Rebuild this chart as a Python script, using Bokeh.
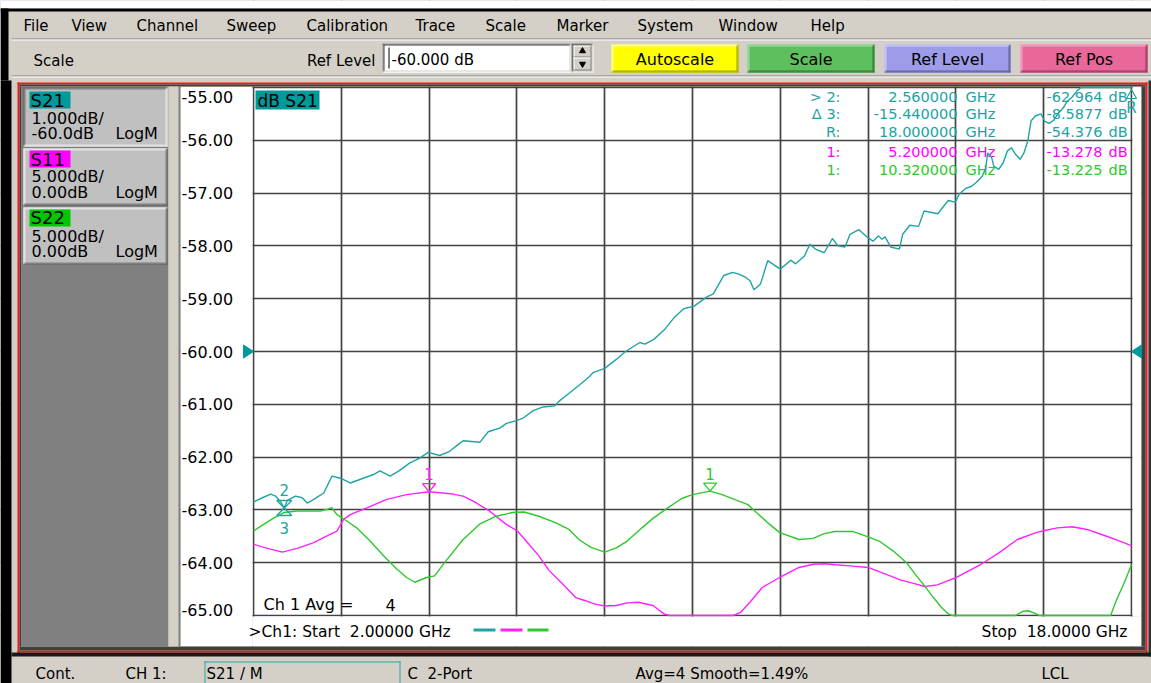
from bokeh.plotting import figure
from bokeh.models import Range1d, Grid, FixedTicker, ColumnDataSource
from bokeh.core.properties import value
from bokeh.embed import file_html
from bokeh.resources import INLINE

# ---------------------------------------------------------------- data
s21_freq = [2.0, 2.163, 2.314, 2.405, 2.495, 2.56, 2.616, 2.767, 2.888, 2.978,
            3.099, 3.19, 3.28, 3.431, 3.582, 3.763, 3.974, 4.186, 4.306, 4.487,
            4.638, 4.85, 5.03, 5.18, 5.393, 5.574, 5.755, 5.822, 6.125, 6.277,
            6.489, 6.61, 6.792, 6.914, 7.096, 7.278, 7.49, 7.581, 7.763, 7.945,
            8.127, 8.188, 8.4, 8.612, 8.78, 9.04, 9.135, 9.295, 9.487, 9.68,
            9.84, 10.03, 10.254, 10.38, 10.57, 10.73, 10.86, 10.96, 11.05, 11.12,
            11.24, 11.37, 11.6, 11.79, 11.88, 12.04, 12.14, 12.24, 12.4, 12.55,
            12.65, 12.78, 12.87, 13.03, 13.19, 13.29, 13.39, 13.45, 13.51, 13.61,
            13.77, 13.83, 13.96, 14.12, 14.22, 14.47, 14.66, 14.79, 14.86, 14.98,
            15.08, 15.17, 15.28, 15.34, 15.38, 15.45, 15.49, 15.58, 15.66, 15.74,
            15.81, 15.89, 15.97, 16.04, 16.11, 16.17, 16.25, 16.35, 16.42, 16.5,
            16.58, 16.66, 16.76, 16.83, 16.92, 17.01, 17.08, 18.0]
s21_db = [-62.85, -62.77, -62.70, -62.74, -62.85, -62.96, -62.82, -62.74, -62.77, -62.87,
          -62.80, -62.74, -62.68, -62.36, -62.40, -62.49, -62.41, -62.33, -62.26, -62.36,
          -62.27, -62.11, -62.02, -61.91, -61.97, -61.89, -61.74, -61.69, -61.72, -61.52,
          -61.45, -61.36, -61.31, -61.26, -61.12, -61.05, -61.03, -60.93, -60.78, -60.63,
          -60.47, -60.40, -60.32, -60.15, -60.00, -59.83, -59.86, -59.77, -59.59, -59.34,
          -59.19, -59.14, -58.97, -58.91, -58.56, -58.50, -58.54, -58.59, -58.66, -58.83,
          -58.72, -58.28, -58.44, -58.27, -58.34, -58.19, -57.97, -58.06, -58.13, -57.86,
          -58.00, -58.02, -57.78, -57.69, -57.84, -57.91, -57.81, -57.875, -57.83, -58.02,
          -58.06, -57.78, -57.61, -57.63, -57.34, -57.39, -57.14, -57.17, -57.02, -56.91,
          -56.875, -56.80, -56.68, -56.54, -56.24, -56.32, -56.49, -56.55, -56.43, -56.20,
          -56.14, -56.27, -56.36, -56.24, -56.01, -55.63, -55.54, -55.50, -55.64, -55.68,
          -55.62, -55.50, -55.38, -55.26, -55.18, -55.06, -55.00, -55.00]

s11_freq = [2.0, 2.254, 2.525, 2.797, 3.099, 3.34, 3.521, 3.642, 3.763, 4.065,
            4.427, 4.79, 5.2, 5.635, 5.816, 5.997, 6.299, 6.6, 6.81, 7.02,
            7.2, 7.39, 7.63, 7.87, 8.05, 8.21, 8.4, 8.61, 8.81, 9.01,
            9.28, 9.48, 9.58, 10.74, 10.88, 11.07, 11.27, 11.59, 11.94, 12.2,
            12.4, 12.6, 12.87, 13.2, 13.53, 13.8, 14.06, 14.23, 14.46, 14.66,
            14.81, 14.99, 15.26, 15.59, 15.92, 16.26, 16.42, 16.65, 16.92, 17.19,
            17.52, 17.86, 18.0]
s11_db = [-18.25, -18.65, -19.0, -18.65, -18.1, -17.45, -17.0, -15.9, -15.45, -14.8,
          -14.0, -13.55, -13.28, -13.5, -13.7, -14.15, -15.1, -16.35, -17.0, -18.25,
          -19.35, -20.75, -22.0, -23.3, -23.6, -23.9, -24.1, -24.05, -23.8, -23.75,
          -24.05, -24.85, -25.0, -25.0, -24.7, -23.6, -22.35, -21.4, -20.45, -20.15,
          -20.1, -20.2, -20.3, -20.45, -21.1, -21.65, -22.0, -22.25, -22.1, -21.7,
          -21.4, -20.9, -20.15, -19.05, -17.8, -17.15, -16.95, -16.7, -16.6, -16.85,
          -17.45, -18.1, -18.4]

s22_freq = [2.0, 2.193, 2.374, 2.555, 2.797, 3.038, 3.22, 3.34, 3.43, 3.52,
            3.7, 3.88, 4.125, 4.37, 4.61, 4.79, 4.94, 5.15, 5.3, 5.51,
            5.82, 6.12, 6.42, 6.72, 6.93, 7.2, 7.5, 7.75, 7.94, 8.15,
            8.4, 8.61, 8.81, 9.08, 9.28, 9.51, 9.81, 10.0, 10.32, 10.54,
            10.81, 11.01, 11.21, 11.4, 11.59, 11.94, 12.2, 12.4, 12.6, 12.93,
            13.2, 13.4, 13.66, 13.9, 14.06, 14.2, 14.36, 14.53, 14.66, 14.73,
            15.89, 16.02, 16.12, 16.26, 16.32, 17.62, 17.72, 17.86, 18.0]
s22_db = [-17.0, -16.35, -15.75, -15.25, -15.1, -15.1, -15.1, -14.95, -14.8, -15.45,
          -16.05, -16.7, -17.95, -19.35, -20.6, -21.4, -21.85, -21.4, -21.25, -19.8,
          -17.8, -16.35, -15.6, -15.25, -15.2, -15.6, -16.2, -16.85, -17.85, -18.55,
          -19.0, -18.6, -17.95, -16.7, -15.8, -14.95, -13.9, -13.55, -13.225, -13.55,
          -14.1, -14.5, -15.45, -16.35, -17.15, -17.8, -17.7, -17.25, -17.05, -17.05,
          -17.55, -17.95, -18.9, -20.0, -21.1, -22.0, -23.1, -24.2, -24.85, -25.0,
          -25.0, -24.6, -24.55, -24.85, -25.0, -25.0, -23.6, -22.0, -20.2]

y_ticks = [-55.0, -56.0, -57.0, -58.0, -59.0, -60.0, -61.0, -62.0, -63.0, -64.0, -65.0]
y_tick_labels = ["-55.00", "-56.00", "-57.00", "-58.00", "-59.00", "-60.00",
                 "-61.00", "-62.00", "-63.00", "-64.00", "-65.00"]
x_divs = [2.0, 3.6, 5.2, 6.8, 8.4, 10.0, 11.6, 13.2, 14.8, 16.4, 18.0]

mk21_freq, mk21_db = 2.56, -62.964      # markers 2 and 3 (S21)
mk11_freq, mk11_db = 5.2, -13.278       # marker 1 (S11)
mk22_freq, mk22_db = 10.32, -13.225     # marker 1 (S22)
mkR_freq = 18.0                         # reference marker R (off-screen above)

readout_labels = ["> 2:", "\u0394 3:", "R:", "1:", "1:"]
readout_freqs = ["2.560000", "-15.440000", "18.000000", "5.200000", "10.320000"]
readout_vals = ["-62.964", "-8.5877", "-54.376", "-13.278", "-13.225"]

NB = "\u00a0"
menu_items = ["File", "View", "Channel", "Sweep", "Calibration", "Trace", "Scale",
              "Marker", "System", "Window", "Help"]
toolbar_buttons = ["Autoscale", "Scale", "Ref Level", "Ref Pos"]
trace_names = ["S21", "S11", "S22"]
trace_scales = ["1.000dB/", "5.000dB/", "5.000dB/"]
trace_refs = ["-60.0dB", "0.00dB", "0.00dB"]
trace_formats = ["LogM", "LogM", "LogM"]
status_items = ["Cont.", "CH 1:", "S21 / M", "C" + NB + NB + "2-Port",
                "Avg=4 Smooth=1.49%", "LCL"]
start_text = ">Ch1: Start" + NB + NB + "2.00000 GHz"
stop_text = "Stop" + NB + NB + "18.0000 GHz"

# ---------------------------------------------------------------- layout
W, H = 1151, 683
OX, OY = 0, 0
GX0, GX1 = 253, 1131
GY0, GY1 = 87, 615
F0, F1 = 2.0, 18.0
DB_TOP, DB_BOT = -55.0, -65.0
S21_REF = -60.0
SXX_PER_S21 = 5.0

xpp = (F1 - F0) / (GX1 - GX0)
ypp = (DB_TOP - DB_BOT) / (GY1 - GY0)
x_lo = F0 - (GX0 - OX) * xpp
x_hi = F1 + (OX + W - GX1) * xpp
y_hi = DB_TOP + (GY0 - OY) * ypp
y_lo = DB_BOT - (OY + H - GY1) * ypp


def to_sxx(v):
    return (v - S21_REF) * SXX_PER_S21


GRAY = "#d4d0c8"
DARK = "#808080"
DARKER = "#404040"
WHITE = "#ffffff"
BLACK = "#000000"
RED = "#f01a1a"
TEAL_BOX = "#009999"
TEAL = "#22a3a3"
MAG = "#ff00ff"
MAG_T = "#ff22ff"
GRN_BOX = "#00c800"
GRN = "#2ec82e"
FONT = "DejaVu Sans"

p = figure(width=W, height=H, x_range=Range1d(x_lo, x_hi), y_range=Range1d(y_lo, y_hi),
           x_axis_type=None, y_axis_type=None, toolbar_location=None,
           output_backend="svg", min_border=0, outline_line_color=None,
           background_fill_color=GRAY, border_fill_color=GRAY)
p.extra_x_ranges = {"px": Range1d(OX, OX + W)}
p.extra_y_ranges = {"px": Range1d(OY + H, OY),
                    "sxx": Range1d(to_sxx(y_lo), to_sxx(y_hi))}

# white plot area beneath the graticule
p.quad(left=[180], right=[1141], top=[86], bottom=[646], fill_color=WHITE,
       line_color=None, x_range_name="px", y_range_name="px", level="image")

for dim, ticks in ((0, x_divs), (1, y_ticks)):
    g = Grid(dimension=dim, ticker=FixedTicker(ticks=ticks),
             grid_line_color="#424242", grid_line_width=1.7)
    p.add_layout(g, "center")

# ---------------------------------------------------------------- chrome rects
R = []


def rect(l, t, r, b, c):
    R.append((l, t, r, b, c))


def bevel(l, t, r, b, tls, brs):
    for k, (tl, br) in enumerate(zip(tls, brs)):
        rect(l + k, t + k, r - k, t + k + 1, tl)
        rect(l + k, t + k, l + k + 1, b - k, tl)
        rect(l + k, b - k - 1, r - k, b - k, br)
        rect(r - k - 1, t + k, r - k, b - k, br)


# masks outside the white area
rect(0, 0, 1151, 86, GRAY)
rect(0, 646, 1151, 683, GRAY)
rect(0, 86, 180, 646, GRAY)
rect(1141, 86, 1151, 646, GRAY)
# white margins inside the plot area, outside the graticule
rect(180, 86, 252, 646, WHITE)
rect(252, 616, 1141, 646, WHITE)
rect(1132, 86, 1141, 616, WHITE)

# window frame
rect(0, 0, 1151, 8, WHITE)
rect(0, 8, 1151, 11, BLACK)
rect(0, 8, 8, 80, BLACK)
rect(0, 80, 11, 683, BLACK)
rect(1148, 80, 1151, 656, "#303030")
rect(11, 38, 1151, 39, DARK)
rect(11, 39, 1151, 40, WHITE)
rect(11, 75, 1151, 76, DARK)
rect(11, 76, 1151, 77, WHITE)

# red frame and dark inner ring
rect(17, 82, 1147, 84, RED)
rect(17, 650, 1147, 652, RED)
rect(17, 82, 19, 652, RED)
rect(1145, 82, 1147, 652, RED)
rect(19, 84, 1145, 86, DARKER)
rect(19, 646, 1145, 650, DARKER)
rect(1141, 86, 1145, 646, DARKER)
rect(19, 86, 21, 646, DARKER)
# left trace panel
rect(21, 86, 168, 646, DARK)
rect(168, 86, 178, 646, GRAY)
rect(178, 86, 180, 646, DARK)

# status bar
rect(11, 652, 1151, 656, "#1a1a1a")
rect(204, 661, 400, 662, TEAL)
rect(204, 661, 205, 683, TEAL)
rect(399, 661, 400, 683, TEAL)

# trace buttons
btn_y = [(87, 146), (148, 205), (207, 264)]
box_y = [(91, 108), (150, 167), (209, 226)]
box_c = [TEAL_BOX, MAG, GRN_BOX]
for i, (t, b) in enumerate(btn_y):
    rect(23, t, 167, b, "#c0c0c0")
    if i == 0:
        bevel(23, t, 167, b, [DARKER, DARK], [WHITE, "#e4e4e4"])
    else:
        bevel(23, t, 167, b, [WHITE, "#e4e4e4"], [DARKER, DARK])
    rect(29, box_y[i][0], 70, box_y[i][1], box_c[i])

# "dB S21" tag
rect(255, 90, 319, 109, TEAL_BOX)

# toolbar: input box, spinner, buttons
rect(382, 43, 571, 72, WHITE)
bevel(382, 43, 571, 72, [DARK, DARKER], [WHITE, GRAY])
rect(388, 47, 389, 68, BLACK)
rect(571, 43, 593, 72, GRAY)
bevel(571, 43, 593, 72, [DARK, DARKER], [WHITE, GRAY])
bevel(573, 45, 591, 57, [WHITE], [DARK])
bevel(573, 57, 591, 70, [WHITE], [DARK])
btn_x = [(611, 738), (747, 874), (884, 1010), (1020, 1147)]
btn_fill = ["#ffff00", "#5ebf5e", "#9c9ce8", "#e8689a"]
btn_light = ["#ffffa8", "#a8dca8", "#d0d0f6", "#f4aac6"]
btn_dark = ["#a0a000", "#2f7a2f", "#5a5aa6", "#a03264"]
for (l, r), f, li, dk in zip(btn_x, btn_fill, btn_light, btn_dark):
    rect(l, 44, r, 72, f)
    bevel(l, 44, r, 72, [li, li], [dk, dk])

# coloured trace keys next to the start text
rect(473, 628, 495, 631, TEAL)
rect(500, 628, 522, 631, MAG_T)
rect(527, 628, 548, 631, GRN)

src = ColumnDataSource(dict(l=[q[0] for q in R], t=[q[1] for q in R],
                            r=[q[2] for q in R], b=[q[3] for q in R],
                            c=[q[4] for q in R]))
p.quad(left="l", right="r", top="t", bottom="b", fill_color="c", line_color=None,
       source=src, x_range_name="px", y_range_name="px")


# ---------------------------------------------------------------- texts
def txt(x, y, s, size, color=BLACK, align="left", xr="px", yr="px"):
    p.text(x=[x], y=[y], text=[s], text_font=value(FONT),
           text_font_size=f"{size}px", text_color=color, text_align=align,
           text_baseline="middle", x_range_name=xr, y_range_name=yr)


menu_x = [23, 71, 136, 226, 306, 415, 485, 556, 637, 718, 810]
for x, s in zip(menu_x, menu_items):
    txt(x, 25.5, s, 15)

txt(33, 60, "Scale", 15)
txt(375, 60, "Ref Level", 15, align="right")
txt(391, 59.5, "-60.000 dB", 15)
p.scatter(x=[582, 582], y=[50.5, 63.5], marker=["triangle", "inverted_triangle"],
          size=6, color=BLACK, x_range_name="px", y_range_name="px")
for (l, r), s in zip(btn_x, toolbar_buttons):
    txt((l + r) / 2, 59, s, 16, align="center")

name_c = [100, 158.5, 217]
scale_c = [117.5, 176, 236]
ref_c = [133, 191.5, 251]
for i in range(3):
    txt(30, name_c[i], trace_names[i], 18)
    txt(31, scale_c[i], trace_scales[i], 16)
    txt(31, ref_c[i], trace_refs[i], 16)
    txt(115, ref_c[i], trace_formats[i], 16)

# y tick labels through the data scale (end labels nudged inside the graticule)
tick_label_y = [y_ticks[0] - 9 * ypp] + y_ticks[1:-1] + [y_ticks[-1] + 6 * ypp]
p.text(x=[181] * len(y_ticks), y=tick_label_y, text=y_tick_labels,
       text_font=value(FONT), text_font_size="16px", text_baseline="middle",
       x_range_name="px")

txt(257, 100, "dB S21", 17)

row_c = [96, 113.5, 131, 151, 169.5]
row_col = [TEAL, TEAL, TEAL, MAG, GRN]
for i in range(5):
    txt(840, row_c[i], readout_labels[i], 14.5, row_col[i], align="right")
    txt(957, row_c[i], readout_freqs[i], 14.5, row_col[i], align="right")
    txt(965, row_c[i], "GHz", 14.5, row_col[i])
    txt(1102, row_c[i], readout_vals[i], 14.5, row_col[i], align="right")
    txt(1108, row_c[i], "dB", 14.5, row_col[i])

txt(263, 604, "Ch 1 Avg =", 16)
txt(385, 604, "4", 16)
txt(248, 631, start_text, 15.5)
txt(1127, 631, stop_text, 15.5, align="right")

status_x = [35, 125, 206, 407, 635, 1041]
for x, s in zip(status_x, status_items):
    txt(x, 673.5, s, 15)

# reference-level arrows (S21 ref = -60 dB)
ah = 6.5 * ypp
p.patches(xs=[[243, 243, 253], [1141, 1141, 1131]],
          ys=[[S21_REF + ah, S21_REF - ah, S21_REF]] * 2,
          fill_color=TEAL_BOX, line_color=TEAL_BOX, line_width=1, x_range_name="px")

# ---------------------------------------------------------------- traces
p.line(s21_freq, s21_db, line_color=TEAL, line_width=1.4)
p.line(s11_freq, s11_db, line_color=MAG_T, line_width=1.4, y_range_name="sxx")
p.line(s22_freq, s22_db, line_color=GRN, line_width=1.4, y_range_name="sxx")

# ---------------------------------------------------------------- markers
dx21 = 7.5 * xpp
dy21 = 7.5 * ypp
p.patches(xs=[[mk21_freq - dx21, mk21_freq + dx21, mk21_freq]] * 2,
          ys=[[mk21_db + dy21, mk21_db + dy21, mk21_db],
              [mk21_db - dy21, mk21_db - dy21, mk21_db]],
          fill_color=None, line_color=TEAL, line_width=1.3)
p.text(x=[mk21_freq, mk21_freq], y=[mk21_db + 17.5 * ypp, mk21_db - 20.5 * ypp],
       text=["2", "3"], text_font=value(FONT), text_font_size="15px",
       text_color=TEAL, text_align="center", text_baseline="middle")

sy = ypp * SXX_PER_S21
dxm = 6.5 * xpp
for f, v, c in ((mk11_freq, mk11_db, MAG_T), (mk22_freq, mk22_db, GRN)):
    p.patches(xs=[[f - dxm, f + dxm, f]], ys=[[v + 8 * sy, v + 8 * sy, v]],
              fill_color=None, line_color=c, line_width=1.3, y_range_name="sxx")
    p.text(x=[f], y=[v + 17.5 * sy], text=["1"], text_font=value(FONT),
           text_font_size="15px", text_color=c, text_align="center",
           text_baseline="middle", y_range_name="sxx")

# reference marker R, off the top of the screen
p.patches(xs=[[mkR_freq - 5 * xpp, mkR_freq + 5 * xpp, mkR_freq]], ys=[[98, 98, 89]],
          fill_color=None, line_color=TEAL, line_width=1.2, y_range_name="px")
p.text(x=[mkR_freq], y=[107.5], text=["R"], text_font=value(FONT), text_font_size="15px",
       text_color=TEAL, text_align="center", text_baseline="middle", y_range_name="px")

open("out.html", "w").write(file_html(p, INLINE))
